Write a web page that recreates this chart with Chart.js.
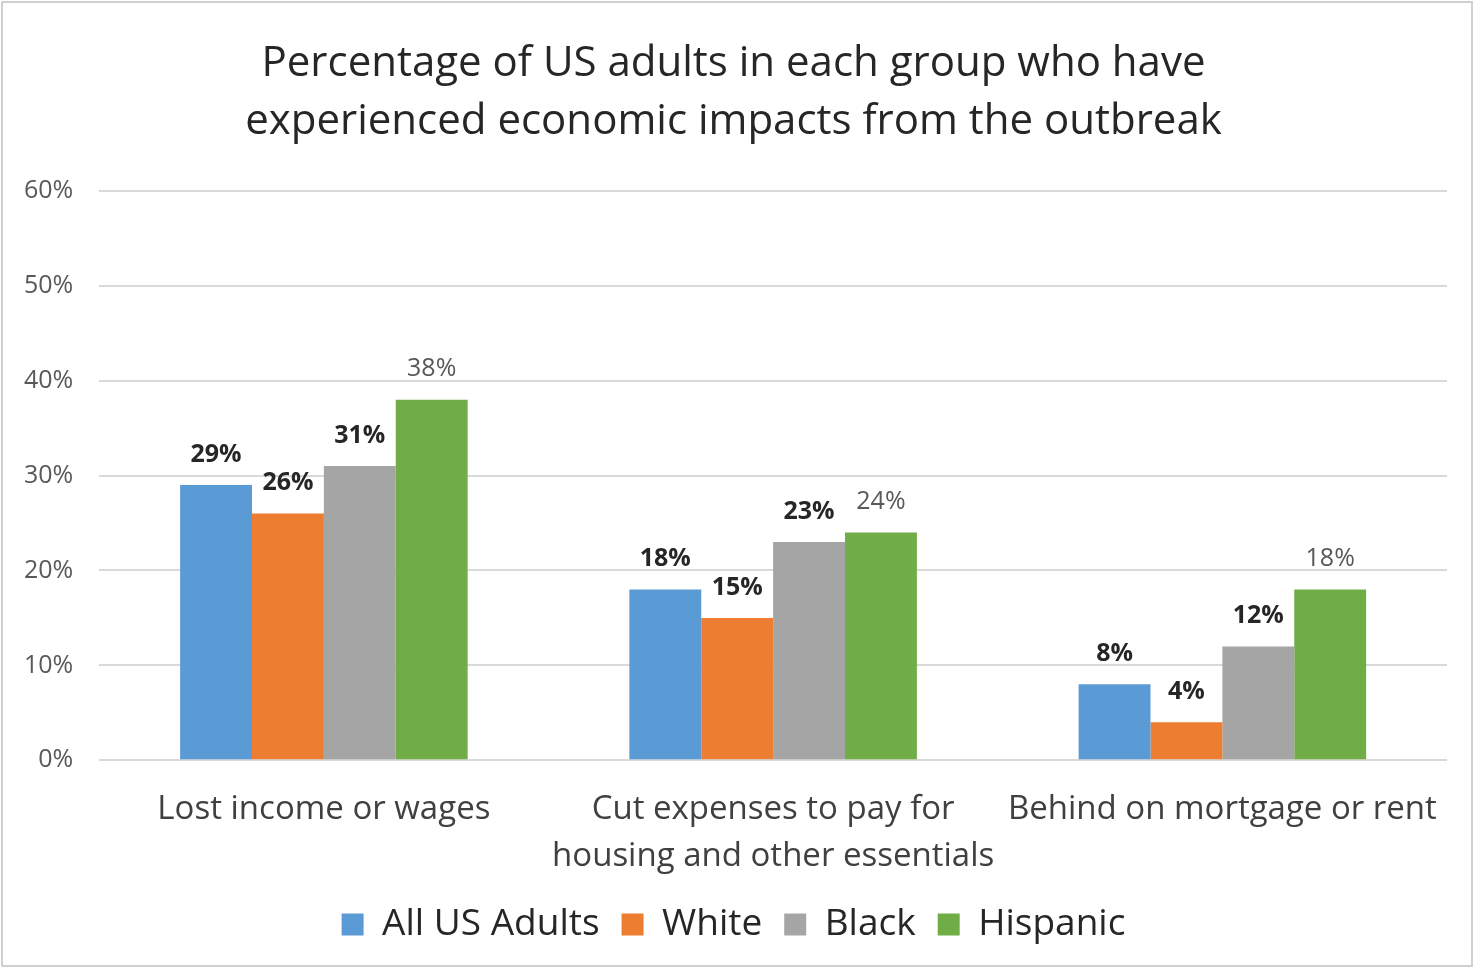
<!DOCTYPE html>
<html>
<head>
<meta charset="utf-8">
<script src="https://cdn.jsdelivr.net/npm/chart.js@4/dist/chart.umd.min.js"></script>
<style>
  html, body { margin: 0; padding: 0; background: #fff; }
  #wrap { position: absolute; left: 1px; top: 1px; width: 1472px; height: 966px; border: 2px solid #d0d0d0; box-sizing: border-box; }
</style>
</head>
<body>
<div id="wrap"><canvas id="chart"></canvas></div>
<script>
    // data
    var categories = ["Lost income or wages", ["Cut expenses to pay for", "housing and other essentials"], "Behind on mortgage or rent"];
    var allAdults = [29, 18, 8];
    var white = [26, 15, 4];
    var black = [31, 23, 12];
    var hispanic = [38, 24, 18];
    var yTicks = [0, 10, 20, 30, 40, 50, 60];

    var fontFamily = "'Open Sans', 'Noto Sans', sans-serif";

    // draws the value above each bar (no datalabels plugin available offline)
    const barLabels = {
        id: 'barLabels',
        afterDatasetsDraw(chart) {
            const ctx = chart.ctx;
            chart.data.datasets.forEach((ds, i) => {
                const meta = chart.getDatasetMeta(i);
                meta.data.forEach((bar, j) => {
                    ctx.save();
                    ctx.font = (ds.labelBold ? 'bold ' : '') + '25px ' + fontFamily;
                    ctx.fillStyle = ds.labelColor;
                    ctx.textAlign = 'center';
                    ctx.textBaseline = 'bottom';
                    ctx.fillText(ds.data[j] + '%', bar.x, bar.y - 18);
                    ctx.restore();
                });
            });
        }
    };

    new Chart(document.getElementById('chart'), {
        type: 'bar',
        data: {
            labels: categories,
            datasets: [
                { label: 'All US Adults', data: allAdults, backgroundColor: '#5b9bd5', labelBold: true, labelColor: '#262626' },
                { label: 'White', data: white, backgroundColor: '#ed7d31', labelBold: true, labelColor: '#262626' },
                { label: 'Black', data: black, backgroundColor: '#a5a5a5', labelBold: true, labelColor: '#262626' },
                { label: 'Hispanic', data: hispanic, backgroundColor: '#70ad47', labelBold: false, labelColor: '#595959' }
            ]
        },
        options: {
            responsive: true,
            maintainAspectRatio: false,
            animation: false,
            layout: { padding: { left: 17, right: 24, top: 32, bottom: 12 } },
            datasets: { bar: { categoryPercentage: 0.64, barPercentage: 1.0 } },
            plugins: {
                title: {
                    display: true,
                    text: ['Percentage of US adults in each group who have', 'experienced economic impacts from the outbreak'],
                    color: '#262626',
                    font: { family: fontFamily, size: 42, weight: 'normal', lineHeight: 1.38 },
                    padding: { top: 0, bottom: 40 }
                },
                legend: {
                    position: 'bottom',
                    labels: {
                        color: '#262626',
                        font: { family: fontFamily, size: 37 },
                        boxWidth: 22,
                        boxHeight: 22,
                        padding: 22
                    }
                },
                tooltip: { enabled: false }
            },
            scales: {
                x: {
                    // tick length gives the gap under the plot, padding stays small
                    grid: { display: false, drawTicks: true, tickLength: 22 },
                    border: { display: false },
                    ticks: { color: '#404040', font: { family: fontFamily, size: 33, lineHeight: 1.42 }, padding: 4 }
                },
                y: {
                    min: 0,
                    max: 60,
                    afterBuildTicks: (axis) => { axis.ticks = yTicks.map(v => ({ value: v })); },
                    grid: { color: '#d9d9d9', lineWidth: 2, drawTicks: true, tickLength: 22, tickColor: 'rgba(0,0,0,0)' },
                    border: { display: false },
                    ticks: { color: '#595959', font: { family: fontFamily, size: 25 }, padding: 4, callback: v => v + '%' }
                }
            }
        },
        plugins: [barLabels]
    });
</script>
</body>
</html>
